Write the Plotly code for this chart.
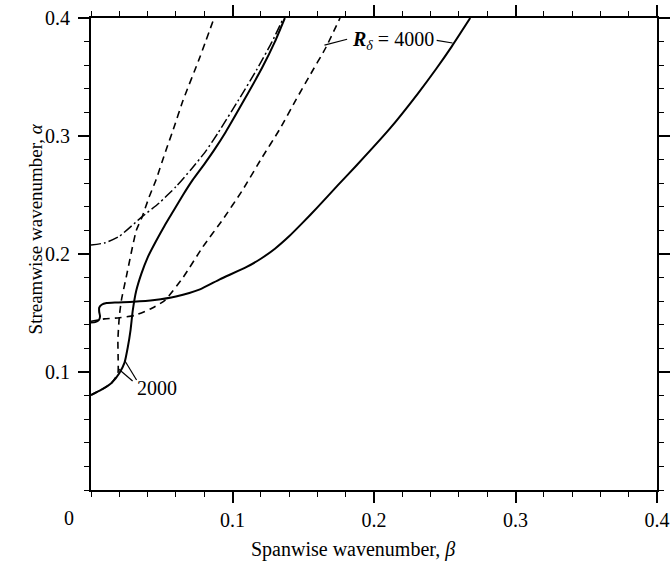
import plotly.graph_objects as go

# ---- data (beta, alpha) ----
solid_2000_beta = [0, 0.0074, 0.0145, 0.020, 0.0237, 0.026, 0.028, 0.0295, 0.032, 0.0355, 0.040,
                   0.046, 0.052, 0.058, 0.065, 0.072, 0.080, 0.087, 0.095, 0.108, 0.121, 0.130, 0.137]
solid_2000_alpha = [0.0805, 0.085, 0.0907, 0.099, 0.108, 0.121, 0.136, 0.152, 0.169, 0.183, 0.197,
                    0.211, 0.224, 0.236, 0.250, 0.263, 0.276, 0.288, 0.303, 0.330, 0.358, 0.380, 0.400]

dashed_2000_beta = [0, 0.0074, 0.0145, 0.019, 0.0192, 0.019, 0.020, 0.0215, 0.025, 0.032, 0.036,
                    0.041, 0.046, 0.053, 0.058, 0.065, 0.077, 0.087]
dashed_2000_alpha = [0.0805, 0.085, 0.0907, 0.099, 0.110, 0.127, 0.147, 0.161, 0.181, 0.220, 0.231,
                     0.248, 0.263, 0.288, 0.305, 0.330, 0.367, 0.400]

dashdot_beta = [0, 0.010, 0.020, 0.0355, 0.048, 0.060, 0.071, 0.081, 0.090, 0.104, 0.117, 0.128, 0.136]
dashdot_alpha = [0.2076, 0.2095, 0.215, 0.231, 0.243, 0.257, 0.272, 0.287, 0.303, 0.330, 0.356, 0.380, 0.400]

solid_4000_beta = [0, 0.003, 0.0055, 0.0064, 0.0058, 0.0058, 0.0075, 0.011, 0.018, 0.030, 0.045,
                   0.060, 0.077, 0.091, 0.110, 0.120, 0.130, 0.140, 0.150, 0.160, 0.175, 0.1876,
                   0.211, 0.231, 0.244, 0.255, 0.268]
solid_4000_alpha = [0.142, 0.1423, 0.144, 0.147, 0.151, 0.1545, 0.157, 0.1585, 0.159, 0.1595, 0.161,
                    0.164, 0.170, 0.1785, 0.189, 0.196, 0.2045, 0.215, 0.227, 0.2395, 0.259, 0.275,
                    0.306, 0.336, 0.357, 0.376, 0.400]

dashed_4000_beta = [0, 0.0095, 0.020, 0.031, 0.043, 0.052, 0.065, 0.079, 0.093, 0.107, 0.121,
                    0.133, 0.145, 0.154, 0.166, 0.176]
dashed_4000_alpha = [0.143, 0.145, 0.146, 0.148, 0.154, 0.1605, 0.180, 0.206, 0.229, 0.254, 0.282,
                     0.305, 0.331, 0.350, 0.375, 0.400]

x_tick_vals = [0.1, 0.2, 0.3, 0.4]
x_tick_text = ["0.1", "0.2", "0.3", "0.4"]
y_tick_vals = [0.1, 0.2, 0.3, 0.4]
y_tick_text = ["0.1", "0.2", "0.3", "0.4"]

FONT = "Liberation Serif"

fig = go.Figure()

def add(xs, ys, dash, width):
    fig.add_trace(go.Scatter(x=xs, y=ys, mode="lines",
                             line=dict(color="black", width=width, dash=dash,
                                       shape="spline", smoothing=0.5),
                             showlegend=False, hoverinfo="skip", cliponaxis=True))

add(dashdot_beta, dashdot_alpha, "10px,3px,2px,3px", 1.5)
add(dashed_2000_beta, dashed_2000_alpha, "7px,5px", 1.6)
add(dashed_4000_beta, dashed_4000_alpha, "7px,5px", 1.6)
add(solid_2000_beta, solid_2000_alpha, "solid", 2)
add(solid_4000_beta, solid_4000_alpha, "solid", 2)

# leader lines for labels
leaders = [
    (0.165, 0.377, 0.181, 0.382),
    (0.2443, 0.381, 0.2555, 0.3788),
    (0.0237, 0.110, 0.0322, 0.0932),
    (0.0195, 0.1025, 0.0294, 0.0924),
]
for x0, y0, x1, y1 in leaders:
    fig.add_shape(type="line", x0=x0, y0=y0, x1=x1, y1=y1, xref="x", yref="y",
                  line=dict(color="black", width=1.2))

axis_common = dict(
    showgrid=False, zeroline=False, showline=True, linecolor="black", linewidth=2,
    ticks="outside", ticklen=11, tickwidth=1.5, tickcolor="black", mirror="allticks",
    tickfont=dict(family=FONT, size=20, color="black"), automargin=False,
    ticklabeloverflow="allow",
    minor=dict(ticks="outside", ticklen=5, tickwidth=1.2, tickcolor="black",
               tick0=0, dtick=0.02, showgrid=False),
)

fig.update_xaxes(range=[0, 0.4], tickmode="array", tickvals=x_tick_vals, ticktext=x_tick_text,
                 **axis_common)
fig.update_yaxes(range=[0, 0.4], tickmode="array", tickvals=y_tick_vals, ticktext=y_tick_text,
                 ticklabelstandoff=4, **axis_common)

common_ann = dict(showarrow=False, xanchor="center", yanchor="middle")
annotations = [
    dict(text="<i><b>R</b></i><sub><i>δ</i></sub> = 4000", x=0.2136, y=0.381, xref="x", yref="y",
         font=dict(family=FONT, size=20, color="black"), **common_ann),
    dict(text="2000", x=0.0467, y=0.0864, xref="x", yref="y",
         font=dict(family=FONT, size=20, color="black"), **common_ann),
    dict(text="0", x=-0.038, y=-0.0593, xref="paper", yref="paper",
         font=dict(family=FONT, size=20, color="black"), **common_ann),
    dict(text="Spanwise wavenumber, <i>β</i>", x=0.4624, y=-0.127, xref="paper", yref="paper",
         font=dict(family=FONT, size=20, color="black"), **common_ann),
    dict(text="Streamwise wavenumber, <i>α</i>", x=-0.0964, y=0.553, xref="paper", yref="paper",
         textangle=-90, font=dict(family=FONT, size=19, color="black"), **common_ann),
]

fig.update_layout(
    width=671, height=565,
    margin=dict(l=91, r=14, t=18, b=75, autoexpand=False),
    plot_bgcolor="white", paper_bgcolor="white",
    annotations=annotations,
    showlegend=False,
)

# remove the default 8px body margin so the 671x565 figure fills the window exactly
fig.write_html("out.html",
               config={"displayModeBar": False},
               post_script="document.body.style.margin='0';document.body.style.overflow='hidden';")
